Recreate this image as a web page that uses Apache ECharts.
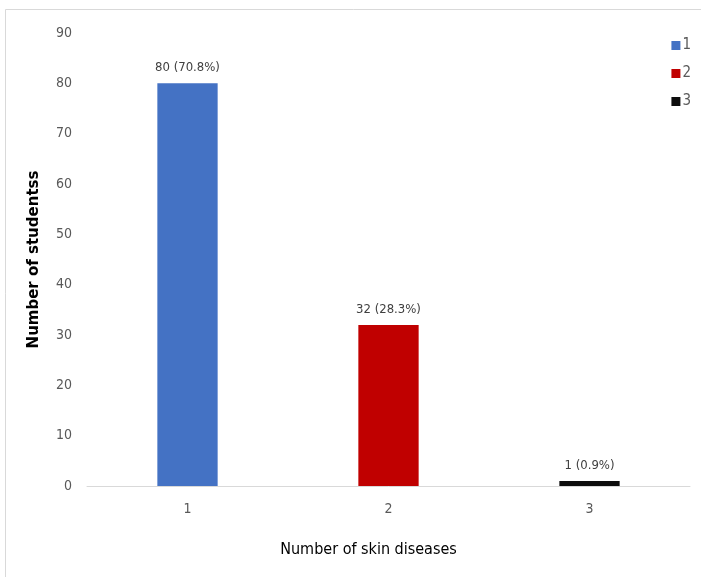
<!DOCTYPE html>
<html>
<head>
<meta charset="utf-8">
<style>
  html, body { margin: 0; padding: 0; background: #fff; }
  #chart { width: 701px; height: 577px; }
</style>
<script src="https://cdn.jsdelivr.net/npm/echarts@6/dist/echarts.min.js"></script>
</head>
<body>
<div id="chart"></div>
<script>
// Number of skin diseases per student
const categories = ['1', '2', '3'];
const counts = [80, 32, 1];
const percents = ['70.8%', '28.3%', '0.9%'];
const barColors = ['#4472C4', '#C00000', '#0D0D0D'];
const yTicks = { min: 0, max: 90, interval: 10 };

const font = "'Liberation Sans Narrow', 'DejaVu Sans Condensed', sans-serif";

const chart = echarts.init(document.getElementById('chart'), null, { renderer: 'canvas' });

// One series per category so each gets its own legend entry
const series = categories.map((cat, i) => ({
  name: cat,
  type: 'bar',
  barWidth: '30%',
  barGap: '-100%',
  itemStyle: { color: barColors[i] },
  label: {
    show: true,
    position: 'top',
    distance: 9,
    color: '#404040',
    fontFamily: font,
    fontSize: 13,
    formatter: () => counts[i] + ' (' + percents[i] + ')'
  },
  data: categories.map((c, j) => (j === i ? counts[i] : '-'))
}));

chart.setOption({
  animation: false,
  backgroundColor: '#fff',
  graphic: [{
    type: 'rect',
    shape: { x: 5.5, y: 9.5, width: 720, height: 620 },
    style: { fill: 'none', stroke: '#d9d9d9', lineWidth: 1 },
    silent: true,
    z: -1
  }],
  legend: {
    orient: 'vertical',
    right: 5,
    top: 33,
    itemWidth: 9,
    itemHeight: 9,
    itemGap: 13,
    icon: 'rect',
    textStyle: { color: '#595959', fontFamily: font, fontSize: 15, padding: [0, 0, 0, -3] },
    data: categories
  },
  grid: { left: 87, right: 11, top: 33, bottom: 91 },
  xAxis: {
    type: 'category',
    data: categories,
    name: 'Number of skin diseases',
    nameLocation: 'middle',
    nameGap: 56,
    nameTextStyle: { color: '#000', fontFamily: font, fontSize: 16, padding: [0, 40, 0, 0] },
    axisLine: { lineStyle: { color: '#d9d9d9', width: 1 } },
    axisTick: { show: false },
    axisLabel: { color: '#595959', fontFamily: font, fontSize: 14, margin: 16 }
  },
  yAxis: {
    type: 'value',
    min: yTicks.min,
    max: yTicks.max,
    interval: yTicks.interval,
    name: 'Number of studentss',
    nameLocation: 'middle',
    nameGap: 45,
    nameTextStyle: { color: '#000', fontFamily: "'DejaVu Sans', sans-serif", fontSize: 15, fontWeight: 'bold' },
    axisLine: { show: false },
    axisTick: { show: false },
    splitLine: { show: false },
    axisLabel: { color: '#595959', fontFamily: font, fontSize: 14, margin: 15 }
  },
  series: series
});
</script>
</body>
</html>
